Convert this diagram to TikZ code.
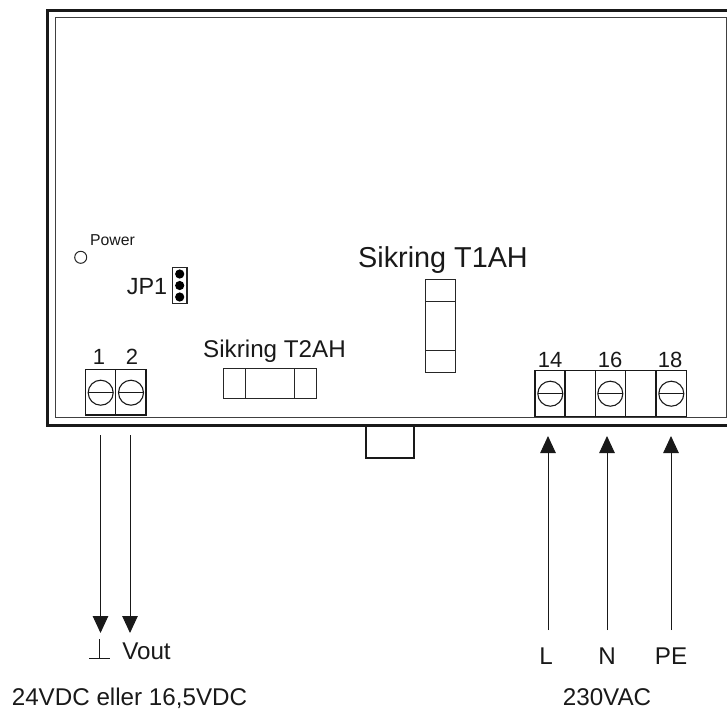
\documentclass[tikz,border=0pt]{standalone}
\usepackage{fontspec}
\setmainfont{Liberation Sans}
\usetikzlibrary{arrows.meta}
\tikzset{
  lbl/.style={inner sep=0pt,outer sep=0pt,anchor=base,text=black!90},
  big/.style={lbl,font=\fontsize{24.2}{24}\selectfont},
  huge/.style={lbl,font=\fontsize{28.8}{29}\selectfont},
  mid/.style={lbl,font=\fontsize{22}{22}\selectfont},
  jplabel/.style={lbl,font=\fontsize{23.4}{24}\selectfont},
  tiny/.style={lbl,font=\fontsize{15.8}{16}\selectfont},
  part/.style={draw=black!85,line width=1pt},
  termbox/.style={draw=black!90,line width=1.4pt},
  screw/.style={draw=black!90,line width=1.1pt},
  feed/.style={draw=black!90,line width=1pt,-{Triangle[length=17pt,width=15.5pt]}},
}
\newcommand{\screwat}[1]{\draw[screw] (#1) circle (12.5pt); \draw[screw] ([xshift=-12.5pt]#1) -- ([xshift=12.5pt]#1);}
\begin{document}
\begin{tikzpicture}[x=1pt,y=-1pt]
\useasboundingbox (0,0) rectangle (727,710);
% housing
\draw[black!90,line width=3pt] (727,10) -- (47.5,10) -- (47.5,425) -- (727,425);
\draw[black!75,line width=1pt] (55,17) rectangle (726,417);
\draw[black!90,line width=2.2pt] (366,425) -- (366,458) -- (414,458) -- (414,425);
% power led
\node[draw=black!85,line width=1pt,circle,minimum size=12pt,inner sep=0pt] (led) at (80.7,257.3) {};
\node[tiny] (power) at (112.5,245) {Power};
% jumper
\node[draw=black!85,line width=1.1pt,minimum width=14.5pt,minimum height=35.5pt,inner sep=0pt] (jpbox) at (179.7,285.5) {};
\foreach \yy in {274,285.5,297} \fill[black] (179.7,\yy) circle (4.6pt);
\node[jplabel] (jp1) at (147,294) {JP1};
% left terminals
\draw[termbox] (85.7,369.7) rectangle (115.7,415);
\draw[termbox] (115.7,369.7) rectangle (146,415);
\coordinate (s1) at (100.7,392.7);
\coordinate (s2) at (131,392.7);
\screwat{s1}\screwat{s2}
\node[mid] (n1) at (99,364) {1};
\node[mid] (n2) at (132,364) {2};
% fuse T2
\draw[part] (223,368.7) rectangle (316,398);
\draw[part] (245,368.7) -- (245,398) (294.3,368.7) -- (294.3,398);
\node[big] (t2) at (274.5,357.7) {Sikring T2AH};
% fuse T1
\draw[part] (425.7,279.7) rectangle (455.3,372);
\draw[part] (425.7,301.7) -- (455.3,301.7) (425.7,350.3) -- (455.3,350.3);
\node[huge] (t1) at (443,267) {Sikring T1AH};
% right terminals
\draw[termbox] (535,370.3) rectangle (565,416.3);
\draw[termbox] (565,370.3) rectangle (595.7,416.3);
\draw[termbox] (595.7,370.3) rectangle (625.7,416.3);
\draw[termbox] (625.7,370.3) rectangle (656,416.3);
\draw[termbox] (656,370.3) rectangle (686.3,416.3);
\coordinate (s14) at (550.3,393.7);
\coordinate (s16) at (610.3,393.7);
\coordinate (s18) at (671.3,393.7);
\screwat{s14}\screwat{s16}\screwat{s18}
\node[mid] (n14) at (550,367.6) {14};
\node[mid] (n16) at (610,367.6) {16};
\node[mid] (n18) at (670,367.6) {18};
% left feeds
\coordinate (a1s) at (100.5,435);
\coordinate (a1e) at (100.5,633);
\coordinate (a2s) at (130,435);
\coordinate (a2e) at (130,633);
\draw[feed] (a1s) -- (a1e);
\draw[feed] (a2s) -- (a2e);
\coordinate (g1) at (99.5,639);
\coordinate (g2) at (99.5,658);
\coordinate (g3) at (89,658);
\coordinate (g4) at (110,658);
\draw[black!90,line width=0.9pt] (g1) -- (g2) (g3) -- (g4);
\node[big] (vout) at (146.5,659) {Vout};
\node[big] (dc) at (129.5,705) {24VDC eller 16,5VDC};
% right feeds
\node[big] (L) at (546,664) {L};
\node[big] (N) at (607,664) {N};
\node[big] (PE) at (671,664) {PE};
\coordinate (bL) at (548,630);
\coordinate (tL) at (548,436);
\coordinate (bN) at (607,630);
\coordinate (tN) at (607,436);
\coordinate (bP) at (671,630);
\coordinate (tP) at (671,436);
\draw[feed] (bL) -- (tL);
\draw[feed] (bN) -- (tN);
\draw[feed] (bP) -- (tP);
\node[big] (ac) at (607,705) {230VAC};
\end{tikzpicture}
\end{document}
